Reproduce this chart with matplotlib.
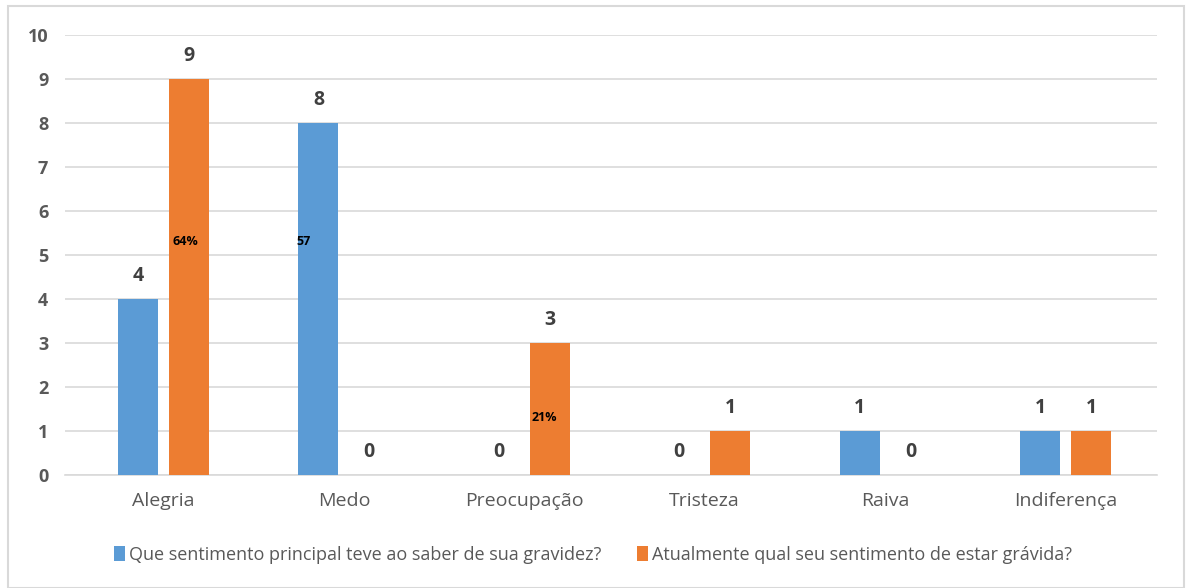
import matplotlib.pyplot as plt
import numpy as np
from matplotlib.patches import Rectangle

plt.rcParams['font.family'] = ['Open Sans', 'DejaVu Sans']

categorias = ["Alegria", "Medo", "Preocupação", "Tristeza", "Raiva", "Indiferença"]
saber = [4, 8, 0, 0, 1, 1]
atual = [9, 0, 3, 1, 0, 1]
serie_saber = "Que sentimento principal teve ao saber de sua gravidez?"
serie_atual = "Atualmente qual seu sentimento de estar grávida?"
# rotulos internos soltos (serie, categoria, texto)
extras = [(1, 0, "64%"), (0, 1, "57"), (1, 2, "21%")]
extras_y = [5.3, 5.3, 1.3]
extras_dx = [-0.02, -0.08, -0.03]

azul = "#5B9BD5"
laranja = "#ED7D31"
cinza = "#595959"

fig = plt.figure(figsize=(11.86, 5.88), dpi=100)
fig.patches.append(Rectangle((8 / 1186, 0), 1176 / 1186, 582 / 588,
                             transform=fig.transFigure, fill=False,
                             edgecolor="#D9D9D9", linewidth=1.5))
ax = fig.add_axes([65 / 1186, 113 / 588, 1092 / 1186, 440 / 588])

x = np.arange(len(categorias))
w = 0.222
off = 0.141
b1 = ax.bar(x - off, saber, w, color=azul, label=serie_saber, zorder=3)
b2 = ax.bar(x + off, atual, w, color=laranja, label=serie_atual, zorder=3)

for bars in (b1, b2):
    for r in bars:
        h = r.get_height()
        ax.text(r.get_x() + r.get_width() / 2, h + 0.3, f"{int(h)}",
                ha="center", va="bottom", fontsize=14, fontweight="bold",
                color="#404040")

for (serie, i, txt), yy, dx in zip(extras, extras_y, extras_dx):
    xc = i + (off if serie else -off) + dx
    ax.text(xc, yy, txt, ha="center", va="center", fontsize=9,
            fontweight="bold", color="black", zorder=4)

ax.set_xlim(-0.546, 5.507)
ax.set_ylim(0, 10)
ax.set_yticks(range(0, 11))
ax.yaxis.grid(True, color="#D9D9D9", linewidth=1.2, zorder=0)
ax.set_axisbelow(True)
for s in ["top", "right", "left"]:
    ax.spines[s].set_visible(False)
ax.spines["bottom"].set_color("#D9D9D9")
ax.spines["bottom"].set_linewidth(1.2)
ax.tick_params(axis="both", length=0)
ax.tick_params(axis="y", pad=12)
ax.tick_params(axis="x", pad=12)
ax.set_xticks(x)
ax.set_xticklabels(categorias, fontsize=14, color=cinza)
for t in ax.get_yticklabels():
    t.set_fontsize(13)
    t.set_fontweight("bold")
    t.set_color(cinza)

fig.legend(loc="center", bbox_to_anchor=(0.5, 33 / 588), ncol=2, frameon=False,
           fontsize=13, handlelength=0.6, handleheight=0.9, handletextpad=0.2,
           columnspacing=2.0, labelcolor=cinza)

plt.savefig("out.png", dpi=100)
